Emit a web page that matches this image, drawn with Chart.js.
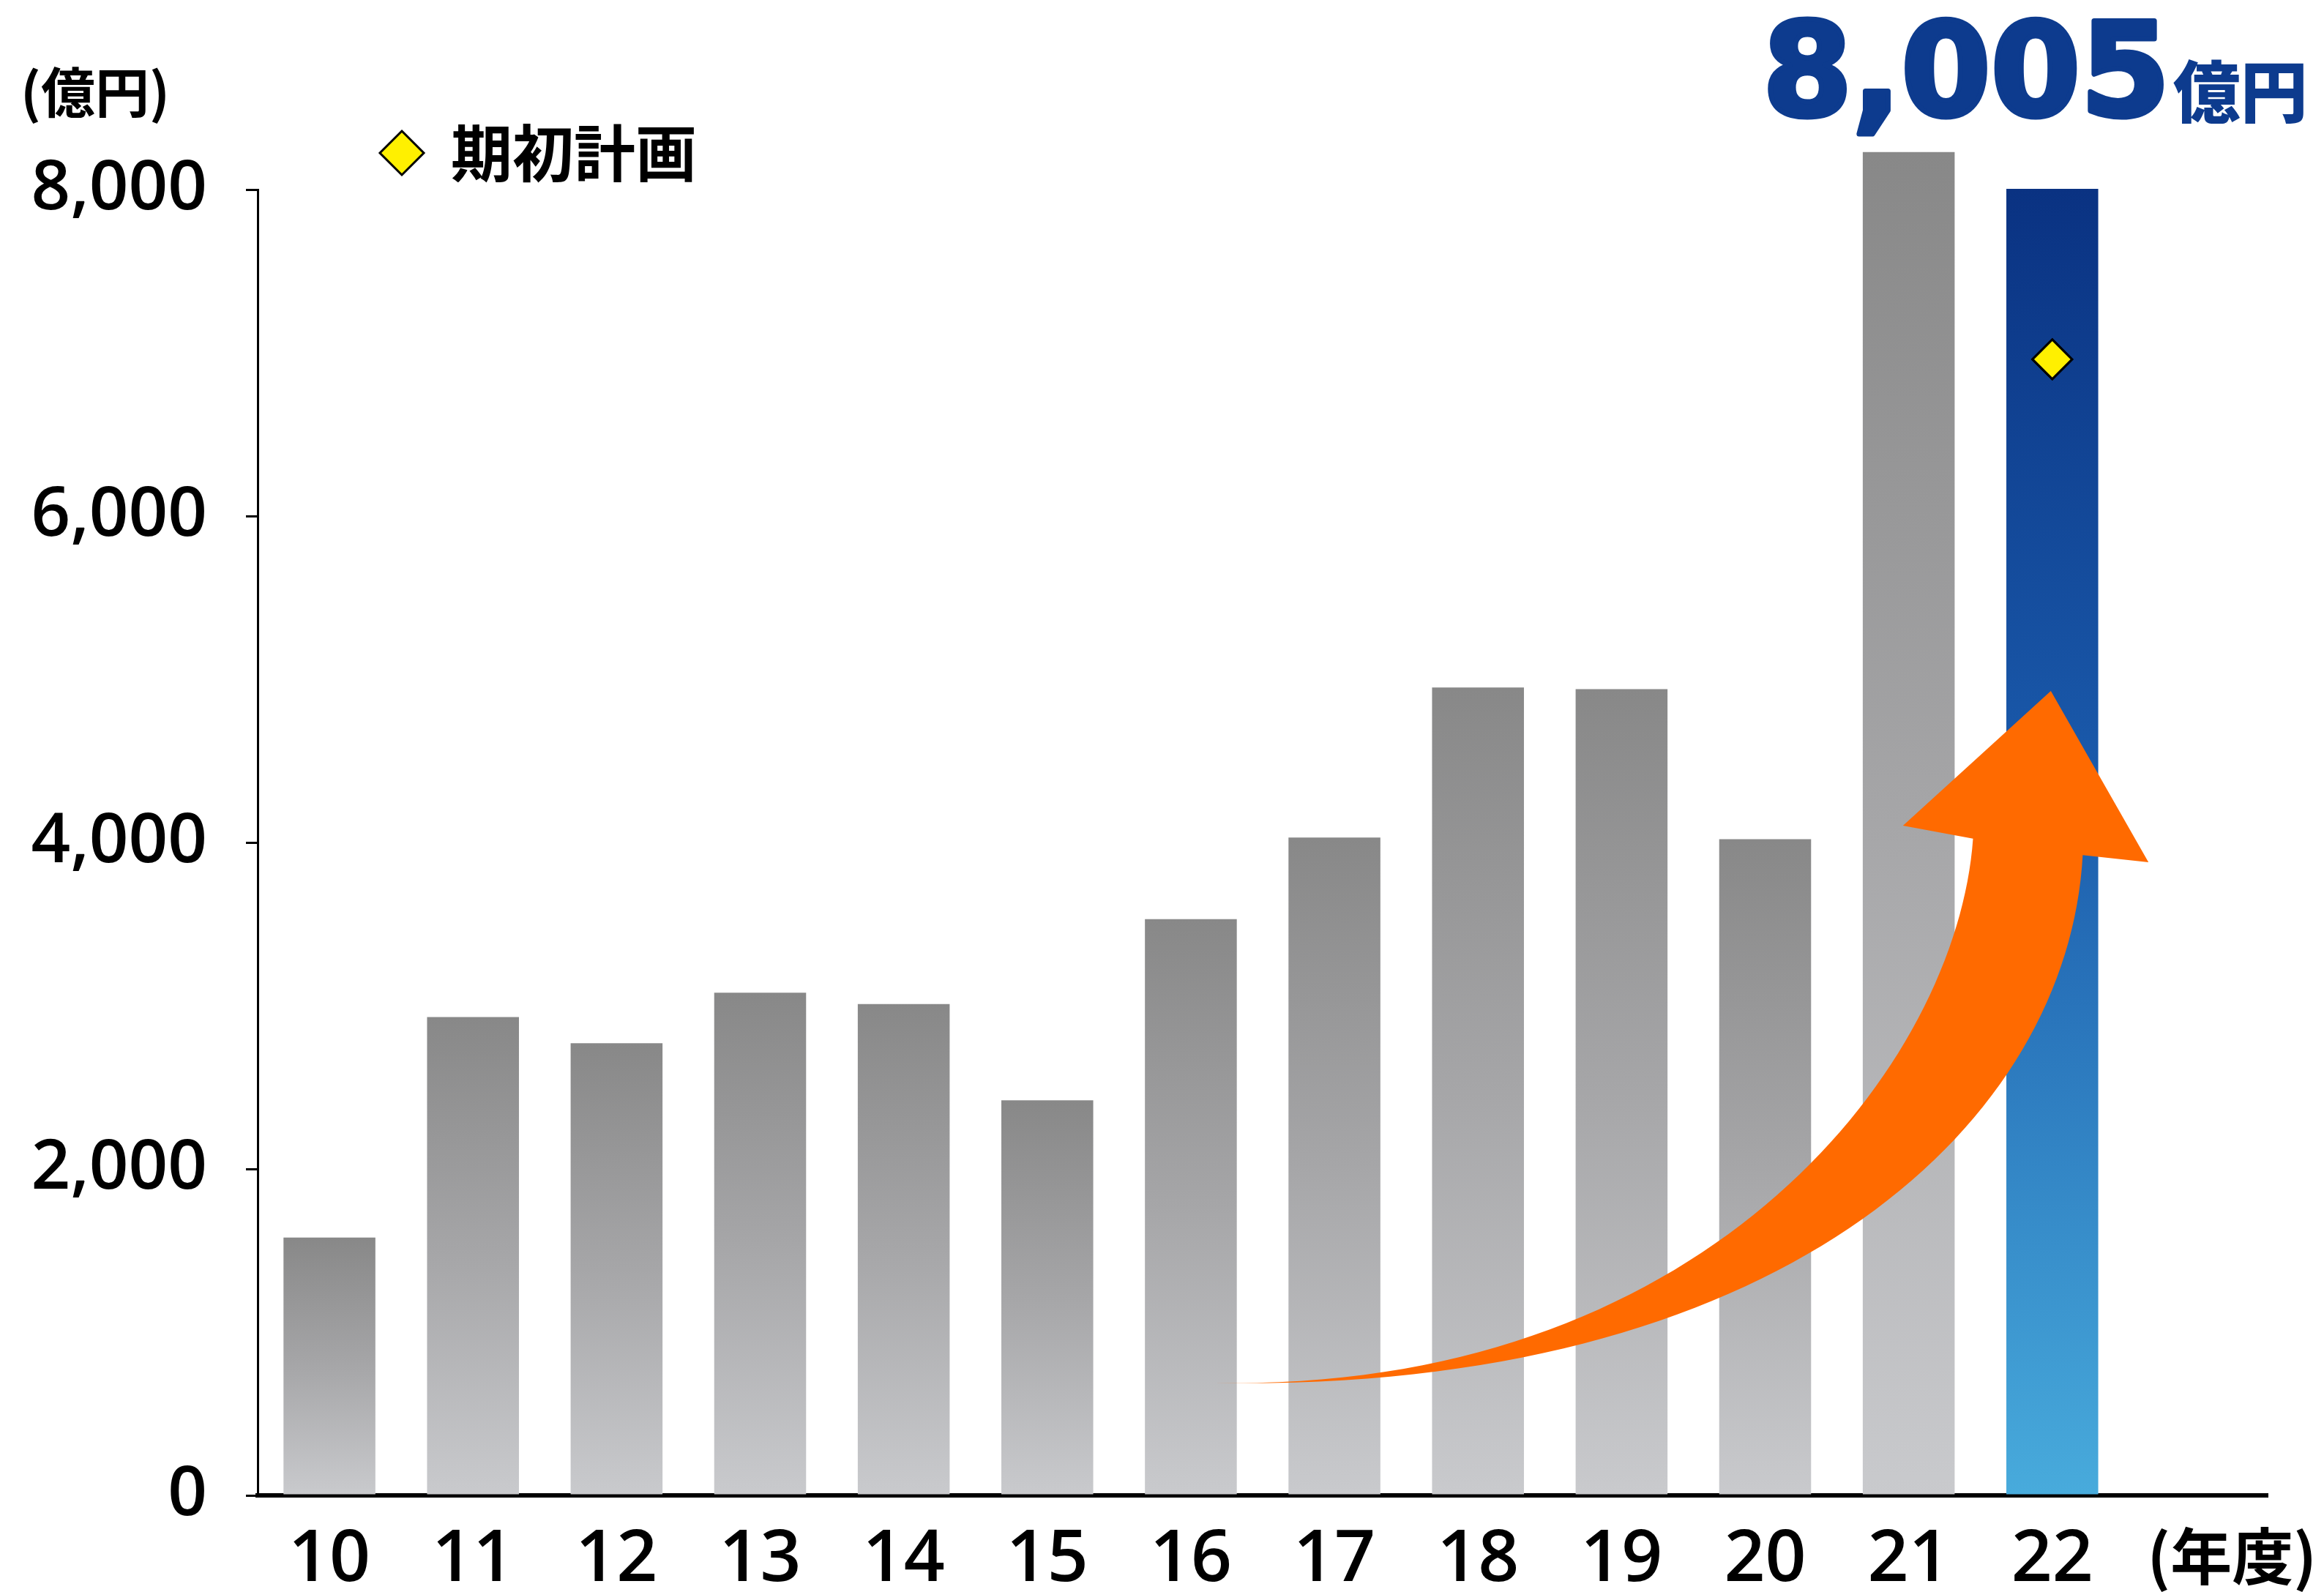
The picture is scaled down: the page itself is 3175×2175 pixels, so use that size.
<!DOCTYPE html>
<html lang="ja">
<head>
<meta charset="utf-8">
<title>売上高推移</title>
<script src="https://cdn.jsdelivr.net/npm/chart.js@4/dist/chart.umd.min.js"></script>
<style>
  html, body { margin: 0; padding: 0; background: #fff; }
  #wrap { width: 3175px; height: 2175px; }
</style>
</head>
<body>
<div id="wrap"><canvas id="sales-chart" width="3175" height="2175"></canvas></div>
<script>
// values (億円)
const years = ['10', '11', '12', '13', '14', '15', '16', '17', '18', '19', '20', '21', '22'];
const sales = [1580, 2930, 2770, 3080, 3010, 2420, 3530, 4030, 4950, 4940, 4020, 8230, 8005];
const planYears = ['22'];
const planValues = [6960];
const yTicks = [0, 2000, 4000, 6000, 8000];

const highlightYear = '22';
const headline = '8,005';

// one spare slot on the right, like the original
const categories = years.concat(['']);

// arrow outline in (category index, value) space: two cubic edges + head
const arrowLower = [[6.152, 689], [10.096, 626], [12.109, 2261], [12.212, 3923]];
const arrowHead = [[12.67, 3879], [11.99, 4928], [10.96, 4103], [11.448, 4023]];
const arrowUpper = [[11.448, 4023], [11.335, 2625], [9.58, 626], [6.152, 689]];

const NUM_FONT = '"Open Sans", "Noto Sans", sans-serif';
const JP_FONT = '"Noto Sans CJK JP", "Noto Sans", sans-serif';
const NAVY = '#0d3b8e';

function barFill(context) {
  const chart = context.chart;
  const yScale = chart.scales.y;
  if (!chart.chartArea || !yScale || context.type !== 'data') return '#a0a0a0';
  const top = yScale.getPixelForValue(context.raw);
  const base = yScale.getPixelForValue(0);
  const g = chart.ctx.createLinearGradient(0, top, 0, base);
  if (years[context.dataIndex] === highlightYear) {
    g.addColorStop(0, '#0a3282');
    g.addColorStop(0.45, '#1a5aab');
    g.addColorStop(1, '#48abdc');
  } else {
    g.addColorStop(0, '#888888');
    g.addColorStop(0.5, '#a6a6a8');
    g.addColorStop(1, '#c9cacd');
  }
  return g;
}

const extras = {
  id: 'extras',
  afterDatasetsDraw(chart) {
    const { ctx, scales: { x, y } } = chart;
    const px = p => [x.getPixelForValue(p[0]), y.getPixelForValue(p[1])];
    const lo = arrowLower.map(px);
    const up = arrowUpper.map(px);

    // orange growth arrow
    ctx.save();
    ctx.fillStyle = '#ff6a00';
    ctx.beginPath();
    ctx.moveTo(lo[0][0], lo[0][1]);
    ctx.bezierCurveTo(lo[1][0], lo[1][1], lo[2][0], lo[2][1], lo[3][0], lo[3][1]);
    arrowHead.forEach(p => { const q = px(p); ctx.lineTo(q[0], q[1]); });
    ctx.lineTo(up[0][0], up[0][1]);
    ctx.bezierCurveTo(up[1][0], up[1][1], up[2][0], up[2][1], up[3][0], up[3][1]);
    ctx.closePath();
    ctx.fill();
    ctx.restore();

    // redraw the plan marker above the arrow
    const meta = chart.getDatasetMeta(1);
    meta.data.forEach(pt => pt.draw(ctx));
  },
  afterDraw(chart) {
    const ctx = chart.ctx;
    ctx.save();
    ctx.fillStyle = '#000';
    ctx.textBaseline = 'middle';

    // unit label
    ctx.font = 'bold 74px ' + JP_FONT;
    ctx.textAlign = 'left';
    ctx.fillText('(億円)', 28, 126);

    // legend
    const lx = 549, ly = 209, r = 30;
    ctx.beginPath();
    ctx.moveTo(lx, ly - r);
    ctx.lineTo(lx + r, ly);
    ctx.lineTo(lx, ly + r);
    ctx.lineTo(lx - r, ly);
    ctx.closePath();
    ctx.fillStyle = '#fff000';
    ctx.fill();
    ctx.lineWidth = 3;
    ctx.strokeStyle = '#000';
    ctx.stroke();
    ctx.fillStyle = '#000';
    ctx.font = 'bold 84px ' + JP_FONT;
    ctx.fillText('期初計画', 616, 209);

    // x unit
    ctx.font = 'bold 84px ' + JP_FONT;
    ctx.textAlign = 'right';
    ctx.fillText('(年度)', 3165, 2126);

    // headline figure
    ctx.textBaseline = 'alphabetic';
    ctx.textAlign = 'left';
    ctx.fillStyle = NAVY;
    ctx.strokeStyle = NAVY;
    ctx.lineWidth = 7;
    ctx.lineJoin = 'round';
    ctx.font = 'bold 176px "DejaVu Sans", sans-serif';
    ctx.fillText(headline, 2408, 158);
    ctx.strokeText(headline, 2408, 158);
    const w = ctx.measureText(headline).width;
    ctx.font = '900 92px ' + JP_FONT;
    ctx.fillText('億円', 2408 + w + 4, 160);
    ctx.restore();
  }
};

const chart = new Chart(document.getElementById('sales-chart'), {
  type: 'bar',
  data: {
    labels: categories,
    datasets: [{
      label: '売上高',
      data: sales,
      backgroundColor: barFill,
      borderWidth: 0,
      barPercentage: 0.64,
      categoryPercentage: 1,
      clip: false,
      order: 2
    }, {
      type: 'line',
      label: '期初計画',
      data: planYears.map((yr, i) => ({ x: yr, y: planValues[i] })),
      showLine: false,
      pointStyle: 'rectRot',
      pointRadius: 27,
      pointBackgroundColor: '#fff000',
      pointBorderColor: '#000',
      pointBorderWidth: 3,
      order: 1
    }]
  },
  options: {
    responsive: false,
    animation: false,
    layout: { padding: { top: 259, right: 77, left: 0, bottom: 0 } },
    plugins: {
      legend: { display: false },
      tooltip: { enabled: false }
    },
    scales: {
      x: {
        grid: { display: false },
        border: { display: true, color: '#000', width: 6 },
        ticks: {
          color: '#000',
          padding: 22,
          maxRotation: 0,
          autoSkip: false,
          font: { family: NUM_FONT, size: 98, weight: '600' }
        },
        afterFit(axis) { axis.height = 132; }
      },
      y: {
        min: 0,
        max: 8000,
        grid: {
          drawOnChartArea: false,
          drawTicks: true,
          tickLength: 16,
          color: '#000',
          lineWidth: 3
        },
        border: { display: true, color: '#000', width: 3 },
        ticks: {
          color: '#000',
          padding: 53,
          font: { family: NUM_FONT, size: 94, weight: '600' },
          callback: v => v.toLocaleString('en-US')
        },
        afterBuildTicks(axis) { axis.ticks = yTicks.map(v => ({ value: v })); },
        afterFit(axis) { axis.width = 352; }
      }
    }
  },
  plugins: [extras]
});
</script>
</body>
</html>
